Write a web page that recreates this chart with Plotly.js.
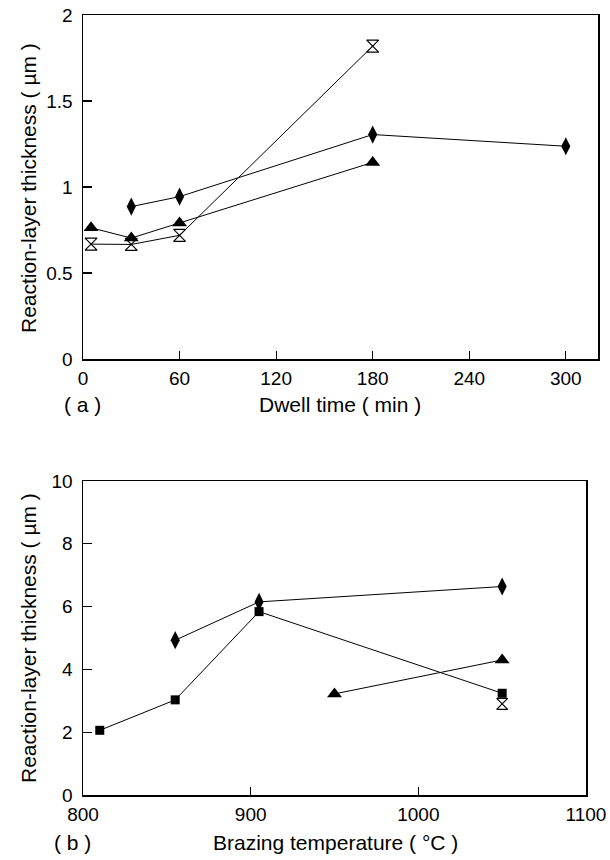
<!DOCTYPE html>
<html>
<head>
<meta charset="utf-8">
<script src="https://cdn.plot.ly/plotly-3.0.1.min.js"></script>
<style>html,body{margin:0;padding:0;background:#fff;}#chart{width:610px;height:860px;}</style>
</head>
<body>
<div id="chart"></div>
<script>
// ---- Panel (a): dwell time (min) vs reaction-layer thickness (um)
const dwellDiamondX = [30, 60, 180, 300];
const dwellDiamondY = [0.886, 0.944, 1.305, 1.237];
const dwellTriangleX = [5, 30, 60, 180];
const dwellTriangleY = [0.763, 0.703, 0.791, 1.143];
const dwellHourglassX = [5, 30, 60, 180];
const dwellHourglassY = [0.668, 0.666, 0.719, 1.819];
const dwellTicks = [0, 60, 120, 180, 240, 300];
const thickTicksA = [0, 0.5, 1, 1.5, 2];
const thickTickTextA = ['0', '0.5', '1', '1.5', '2'];

// ---- Panel (b): brazing temperature (C) vs reaction-layer thickness (um)
const tempDiamondX = [855, 905, 1050];
const tempDiamondY = [4.93, 6.15, 6.64];
const tempSquareX = [810, 855, 905, 1050];
const tempSquareY = [2.06, 3.03, 5.84, 3.24];
const tempTriangleX = [950, 1050];
const tempTriangleY = [3.22, 4.30];
const tempHourglassX = [1050];
const tempHourglassY = [2.90];
const tempTicks = [800, 900, 1000, 1100];
const thickTicksB = [0, 2, 4, 6, 8, 10];

const FONT = 'Liberation Sans, Arial, Helvetica, sans-serif';
const W = 610, H = 860;

function line(x, y, sym, size, xa, ya, open) {
  return {
    x: x, y: y, xaxis: xa, yaxis: ya, type: 'scatter', mode: 'lines+markers',
    line: {color: '#000', width: 1},
    marker: {symbol: sym, size: size, color: '#000',
             line: {color: '#000', width: open ? 1.2 : 0}},
    showlegend: false, hoverinfo: 'skip', cliponaxis: false
  };
}

const data = [
  line(dwellHourglassX, dwellHourglassY, 'hourglass-open', 12, 'x', 'y', true),
  line(dwellTriangleX, dwellTriangleY, 'triangle-up', 13, 'x', 'y'),
  line(dwellDiamondX, dwellDiamondY, 'diamond-tall', 13, 'x', 'y'),
  line(tempSquareX, tempSquareY, 'square', 9, 'x2', 'y2'),
  line(tempDiamondX, tempDiamondY, 'diamond-tall', 13, 'x2', 'y2'),
  line(tempTriangleX, tempTriangleY, 'triangle-up', 13, 'x2', 'y2'),
  line(tempHourglassX, tempHourglassY, 'hourglass-open', 11, 'x2', 'y2', true)
];

const axBase = {
  showgrid: false, zeroline: false, showline: true, linecolor: '#000', linewidth: 1.5,
  mirror: true, ticks: 'inside', tickcolor: '#000', tickwidth: 1.2,
  tickfont: {family: FONT, size: 19, color: '#000'}, fixedrange: true
};

const layout = {
  width: W, height: H,
  margin: {l: 0, r: 0, t: 0, b: 0, pad: 0},
  paper_bgcolor: '#fff', plot_bgcolor: '#fff',
  font: {family: FONT, color: '#000'},
  xaxis: Object.assign({}, axBase, {
    domain: [83 / W, 598 / W], anchor: 'y', range: [0, 320],
    tickmode: 'array', tickvals: dwellTicks, ticklen: 8, ticklabelstandoff: 2
  }),
  yaxis: Object.assign({}, axBase, {
    domain: [1 - 359 / H, 1 - 15 / H], anchor: 'x', range: [0, 2],
    tickmode: 'array', tickvals: thickTicksA, ticktext: thickTickTextA, ticklen: 9, ticklabelstandoff: 5
  }),
  xaxis2: Object.assign({}, axBase, {
    domain: [83 / W, 586 / W], anchor: 'y2', range: [800, 1100],
    tickmode: 'array', tickvals: tempTicks, ticklen: 8, ticklabelstandoff: 2
  }),
  yaxis2: Object.assign({}, axBase, {
    domain: [1 - 795 / H, 1 - 481 / H], anchor: 'x2', range: [0, 10],
    tickmode: 'array', tickvals: thickTicksB, ticklen: 9, ticklabelstandoff: 5
  }),
  annotations: [
    {text: 'Reaction-layer thickness ( \u00b5m )', xref: 'paper', yref: 'paper',
     x: 28 / W, y: 1 - 188 / H, textangle: -90, showarrow: false,
     xanchor: 'center', yanchor: 'middle', font: {family: FONT, size: 21, color: '#000'}},
    {text: 'Dwell time ( min )', xref: 'paper', yref: 'paper',
     x: 340 / W, y: 1 - 405 / H, showarrow: false,
     xanchor: 'center', yanchor: 'middle', font: {family: FONT, size: 21, color: '#000'}},
    {text: '( a )', xref: 'paper', yref: 'paper',
     x: 82 / W, y: 1 - 405 / H, showarrow: false,
     xanchor: 'center', yanchor: 'middle', font: {family: FONT, size: 21, color: '#000'}},
    {text: 'Reaction-layer thickness ( \u00b5m )', xref: 'paper', yref: 'paper',
     x: 28 / W, y: 1 - 638 / H, textangle: -90, showarrow: false,
     xanchor: 'center', yanchor: 'middle', font: {family: FONT, size: 21, color: '#000'}},
    {text: 'Brazing temperature ( \u00b0C )', xref: 'paper', yref: 'paper',
     x: 335 / W, y: 1 - 842 / H, showarrow: false,
     xanchor: 'center', yanchor: 'middle', font: {family: FONT, size: 21, color: '#000'}},
    {text: '( b )', xref: 'paper', yref: 'paper',
     x: 72 / W, y: 1 - 842 / H, showarrow: false,
     xanchor: 'center', yanchor: 'middle', font: {family: FONT, size: 21, color: '#000'}}
  ]
};

Plotly.newPlot('chart', data, layout, {staticPlot: true, displayModeBar: false});
</script>
</body>
</html>
